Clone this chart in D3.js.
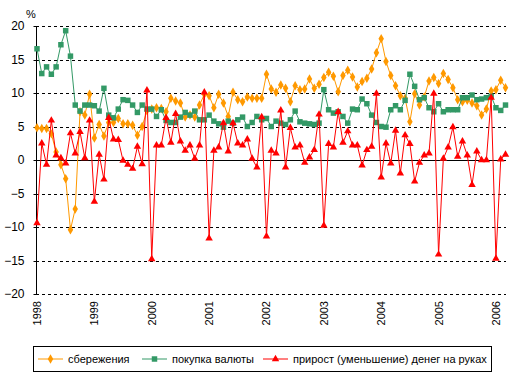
<!DOCTYPE html>
<html>
<head>
<meta charset="utf-8">
<script src="https://cdn.jsdelivr.net/npm/d3@7"></script>
<style>
  body { margin: 0; background: #fff; }
  svg { font-family: "Liberation Sans", Arial, sans-serif; }
</style>
</head>
<body>
<div id="chart"></div>
<script>
var width = 523,
    height = 386;

// monthly values, Jan 1998 - Mar 2006
var years = ["1998", "1999", "2000", "2001", "2002", "2003", "2004", "2005", "2006"];

var savings = [4.8, 4.7, 4.7, 3.9, 1.2, -0.7, -2.8, -10.4, -7.3, 7.2, 6.7, 9.8,
    3.3, 5.3, 3.6, 5.6, 5.6, 6.2, 5.4, 5.4, 5.2, 3.7, 5.0, 7.4,
    7.6, 7.8, 7.7, 7.2, 9.2, 8.8, 8.5, 6.4, 6.7, 6.4, 8.2, 9.8,
    9.6, 7.8, 9.8, 8.5, 6.5, 10.1, 9.0, 8.7, 9.4, 9.2, 9.2, 9.2,
    12.8, 10.6, 10.1, 11.2, 10.7, 8.7, 11.1, 10.5, 10.6, 12.1, 10.7, 11.3,
    12.3, 13.1, 12.5, 10.2, 12.6, 13.4, 12.4, 10.9, 11.7, 12.2, 13.6, 16.0,
    18.1, 14.7, 12.6, 11.1, 9.6, 9.2, 5.7, 9.9, 8.2, 9.4, 11.8, 12.3,
    11.4, 12.9, 12.0, 10.8, 9.0, 8.7, 8.9, 8.5, 8.1, 6.7, 7.6, 10.3,
    10.5, 11.9, 10.8];

var currency = [16.6, 12.9, 13.9, 12.8, 13.9, 17.2, 19.3, 15.5, 8.2, 7.3, 8.2, 8.2,
    8.1, 7.3, 10.7, 6.7, 6.3, 7.6, 9.0, 8.9, 8.2, 7.1, 8.2, 7.6,
    7.6, 6.5, 7.5, 5.9, 5.6, 5.6, 6.4, 7.1, 6.7, 7.3, 6.0, 6.0,
    6.7, 5.8, 5.4, 4.9, 5.8, 5.5, 6.0, 6.4, 5.0, 5.6, 6.5, 6.0,
    6.2, 5.0, 5.8, 5.5, 5.3, 6.0, 7.3, 5.7, 5.5, 5.4, 5.3, 5.5,
    10.5, 7.5, 7.0, 7.2, 6.5, 5.5, 7.6, 7.5, 9.1, 8.4, 6.7, 5.6,
    5.0, 4.9, 7.5, 8.1, 7.5, 8.9, 12.8, 11.0, 9.0, 9.3, 7.8, 7.2,
    8.4, 7.2, 7.5, 7.5, 7.5, 9.3, 9.3, 9.7, 9.0, 9.1, 9.3, 9.5,
    7.8, 7.4, 8.2];

var cash = [-9.4, 2.5, -0.7, 5.9, 0.7, 0.3, -0.5, 4.0, 1.0, 4.2, 0.3, 5.9,
    -6.2, 0.8, -2.9, 6.3, 3.1, 3.0, -0.1, -0.7, -1.3, 2.0, -0.6, 10.4,
    -14.8, 2.2, 2.2, 6.3, 2.6, 6.9, 2.8, 1.4, 2.2, 0.2, 2.2, 10.1,
    -11.7, 1.4, 1.9, 5.5, 1.3, 5.5, 2.5, 2.2, 3.1, 0.2, -1.1, 6.4,
    -11.4, 1.4, 1.0, 7.4, -1.1, 4.8, 1.9, 2.2, -0.4, 0.4, 1.5, 6.8,
    -9.8, 2.4, 1.9, 7.2, 2.6, 4.3, 2.2, 2.2, -0.8, 1.5, 2.0, 9.9,
    -2.6, 2.5, -0.5, 4.4, -2.0, 3.7, 2.4, -3.2, -0.4, 0.7, 1.0, 9.9,
    -14.1, 0.2, 1.9, 4.9, 0.5, 2.8, 0.7, -3.7, 1.3, 0.0, 0.0, 9.3,
    -14.7, 0.1, 0.8];

var seriesNames = ["сбережения", "покупка валюты", "прирост (уменьшение) денег на руках"];
var yTicks = [-20, -15, -10, -5, 0, 5, 10, 15, 20];

var series = [
    { name: seriesNames[0], values: savings, color: "#FF9900", symbol: d3.symbolDiamond, size: 26 },
    { name: seriesNames[1], values: currency, color: "#339966", symbol: d3.symbolSquare, size: 30 },
    { name: seriesNames[2], values: cash, color: "#FF0000", symbol: d3.symbolTriangle, size: 24 }
];

var x = d3.scaleLinear()
    .domain([0, savings.length - 1])
    .range([37, 505.5]);

var y = d3.scaleLinear()
    .domain([-20, 20])
    .range([294, 26]);

var svg = d3.select("#chart").append("svg")
    .attr("width", width)
    .attr("height", height);

// grid
svg.append("g")
    .selectAll("line")
    .data(yTicks)
    .join("line")
    .attr("x1", 36)
    .attr("x2", 506)
    .attr("y1", d => Math.round(y(d)) + 0.5)
    .attr("y2", d => Math.round(y(d)) + 0.5)
    .attr("stroke", "#000")
    .attr("stroke-width", 1)
    .attr("stroke-dasharray", d => d === 0 ? null : "3,3");

// y axis
var yAxis = svg.append("g")
    .attr("transform", "translate(36.5,0)")
    .call(d3.axisLeft(y).tickValues(yTicks).tickSize(3).tickPadding(9));
yAxis.selectAll("text")
    .attr("font-size", 12)
    .attr("font-family", "Liberation Sans, Arial, sans-serif")
    .attr("fill", "#000");
yAxis.selectAll("line").attr("stroke", "#000");
yAxis.select(".domain").attr("stroke", "#000").attr("d", "M0," + y(20) + "V" + y(-20));
yAxis.selectAll(".tick").attr("transform", d => "translate(0," + (Math.round(y(d)) + 0.5) + ")");

svg.append("text")
    .attr("x", 26)
    .attr("y", 18)
    .attr("font-size", 11)
    .text("%");

// year labels
svg.append("g")
    .selectAll("text")
    .data(years)
    .join("text")
    .attr("transform", (d, i) => "translate(" + (x(i * 12) + 4) + ",301) rotate(-90)")
    .attr("text-anchor", "end")
    .attr("font-size", 11)
    .text(d => d);

// lines and markers
var line = d3.line()
    .x((d, i) => x(i))
    .y(d => y(d));

series.forEach(function (s) {
    svg.append("path")
        .datum(s.values)
        .attr("fill", "none")
        .attr("stroke", s.color)
        .attr("stroke-width", 1)
        .attr("d", line);

    svg.append("g")
        .selectAll("path")
        .data(s.values)
        .join("path")
        .attr("transform", (d, i) => "translate(" + x(i) + "," + y(d) + ")")
        .attr("d", d3.symbol().type(s.symbol).size(s.size))
        .attr("fill", s.color);
});

// legend
var legend = svg.append("g");
legend.append("rect")
    .attr("x", 33.5)
    .attr("y", 346.5)
    .attr("width", 458)
    .attr("height", 25)
    .attr("fill", "#fff")
    .attr("stroke", "#000");

var legendX = [38, 142, 263];
var item = legend.selectAll("g")
    .data(series)
    .join("g")
    .attr("transform", (d, i) => "translate(" + legendX[i] + ",359)");

item.append("line")
    .attr("x1", 0)
    .attr("x2", 25)
    .attr("stroke", d => d.color);
item.append("path")
    .attr("transform", "translate(12.5,0)")
    .attr("d", d => d3.symbol().type(d.symbol).size(d.size)())
    .attr("fill", d => d.color);
item.append("text")
    .attr("x", 30)
    .attr("dy", "0.35em")
    .attr("font-size", 11)
    .text(d => d.name);
</script>
</body>
</html>
